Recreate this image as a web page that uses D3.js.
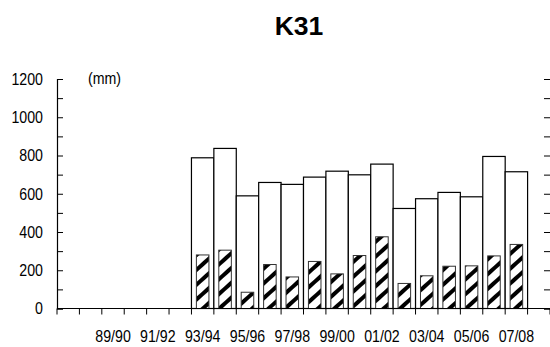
<!DOCTYPE html>
<html>
<head>
<meta charset="utf-8">
<script src="https://cdn.jsdelivr.net/npm/d3@7"></script>
<style>
  body { margin: 0; background: #fff; }
  text { font-family: "Liberation Sans", Arial, sans-serif; fill: #000; }
  text.lbl { font-size: 16.5px; }
</style>
</head>
<body>
<div id="chart"></div>
<script>
// seasons on the category axis
var seasons = ["87/88", "88/89", "89/90", "90/91", "91/92", "92/93", "93/94", "94/95", "95/96", "96/97",
    "97/98", "98/99", "99/00", "00/01", "01/02", "02/03", "03/04", "04/05", "05/06", "06/07", "07/08", "08/09"];
// labels shown under the axis
var shownLabels = ["89/90", "91/92", "93/94", "95/96", "97/98", "99/00", "01/02", "03/04", "05/06", "07/08"];
// white (total) bars, null = no data
var totalVals = [null, null, null, null, null, null, 788, 837, 589, 659,
    649, 687, 718, 699, 755, 523, 574, 607, 584, 795, 715, null];
// hatched bars
var partVals = [null, null, null, null, null, null, 280, 305, 85, 230,
    165, 246, 181, 277, 375, 131, 171, 221, 223, 275, 335, null];
var yTicks = [0, 200, 400, 600, 800, 1000, 1200];

var width = 550, height = 347;
var plotL = 57, plotR = 550, plotT = 79, plotB = 308.5;
var squeeze = 0.86; // labels in the reference use a condensed face

var svg = d3.select("#chart").append("svg")
    .attr("width", width)
    .attr("height", height);

// hatch pattern for the inner bars
var defs = svg.append("defs");
var pat = defs.append("pattern")
    .attr("id", "hatch")
    .attr("patternUnits", "userSpaceOnUse")
    .attr("width", 11)
    .attr("height", 11)
    .attr("patternTransform", "rotate(-42)");
pat.append("rect").attr("width", 11).attr("height", 11).attr("fill", "#fff");
pat.append("rect").attr("x", 0).attr("y", 0).attr("width", 11).attr("height", 4).attr("fill", "#000");

var x = d3.scaleBand()
    .domain(seasons)
    .range([plotL, plotR])
    .padding(0);

var y = d3.scaleLinear()
    .domain([0, 1200])
    .range([plotB, plotT]);

function place(px, py) {
    return "translate(" + px + "," + py + ") scale(" + squeeze + ",1)";
}

// title
svg.append("text")
    .attr("x", 299)
    .attr("y", 35)
    .attr("text-anchor", "middle")
    .style("font-size", "26.5px")
    .style("font-weight", "bold")
    .text("K31");

// unit label
svg.append("text")
    .attr("class", "lbl")
    .attr("transform", place(88, y(1200) + 5))
    .text("(mm)");

// white bars
var bars = svg.append("g").attr("class", "totals")
    .selectAll("rect")
    .data(seasons.filter(function (d, i) { return totalVals[i] != null; }));
bars.enter()
    .append("rect")
    .attr("x", function (d) { return x(d); })
    .attr("y", function (d) { return y(totalVals[seasons.indexOf(d)]); })
    .attr("width", x.bandwidth())
    .attr("height", function (d) { return plotB - y(totalVals[seasons.indexOf(d)]); })
    .attr("fill", "#fff")
    .attr("stroke", "#000")
    .attr("stroke-width", 1.2);

// hatched bars
var innerW = x.bandwidth() * 0.56;
var hatched = svg.append("g").attr("class", "parts")
    .selectAll("rect")
    .data(seasons.filter(function (d, i) { return partVals[i] != null; }));
hatched.enter()
    .append("rect")
    .attr("x", function (d) { return x(d) + (x.bandwidth() - innerW) / 2; })
    .attr("y", function (d) { return y(partVals[seasons.indexOf(d)]); })
    .attr("width", innerW)
    .attr("height", function (d) { return plotB - y(partVals[seasons.indexOf(d)]); })
    .attr("fill", "url(#hatch)")
    .attr("stroke", "#333")
    .attr("stroke-width", 1);

// left axis, ticks pointing inward
var minorTicks = d3.range(0, 1201, 100);
var yAxisL = svg.append("g")
    .attr("transform", "translate(" + plotL + ",0)")
    .call(d3.axisRight(y).tickValues(minorTicks).tickSize(6).tickFormat(""));
yAxisL.select(".domain").attr("stroke", "#000").attr("stroke-width", 1.2);
yAxisL.selectAll(".tick line").attr("stroke", "#000");

svg.append("g").selectAll("text")
    .data(yTicks)
    .enter()
    .append("text")
    .attr("class", "lbl")
    .attr("transform", function (d) { return place(43, y(d)); })
    .attr("dy", "0.36em")
    .attr("text-anchor", "end")
    .text(function (d) { return d; });

// right axis ticks
var yAxisR = svg.append("g")
    .attr("transform", "translate(" + plotR + ",0)")
    .call(d3.axisLeft(y).tickValues(minorTicks).tickSize(6).tickFormat(""));
yAxisR.select(".domain").attr("stroke", "#000");
yAxisR.selectAll(".tick line").attr("stroke", "#000");

// category axis
var boundaries = seasons.map(function (d) { return x(d); }).concat([plotR]);
var xAxis = svg.append("g").attr("class", "x-axis");
xAxis.append("line")
    .attr("x1", plotL)
    .attr("x2", plotR)
    .attr("y1", plotB)
    .attr("y2", plotB)
    .attr("stroke", "#000")
    .attr("stroke-width", 1.2);
xAxis.selectAll("line.tick")
    .data(boundaries)
    .enter()
    .append("line")
    .attr("class", "tick")
    .attr("x1", function (d) { return d; })
    .attr("x2", function (d) { return d; })
    .attr("y1", plotB)
    .attr("y2", plotB + 6)
    .attr("stroke", "#000");
xAxis.selectAll("text")
    .data(shownLabels)
    .enter()
    .append("text")
    .attr("class", "lbl")
    .attr("transform", function (d) { return place(x(d) + x.bandwidth() / 2, 342); })
    .attr("text-anchor", "middle")
    .text(function (d) { return d; });
</script>
</body>
</html>
